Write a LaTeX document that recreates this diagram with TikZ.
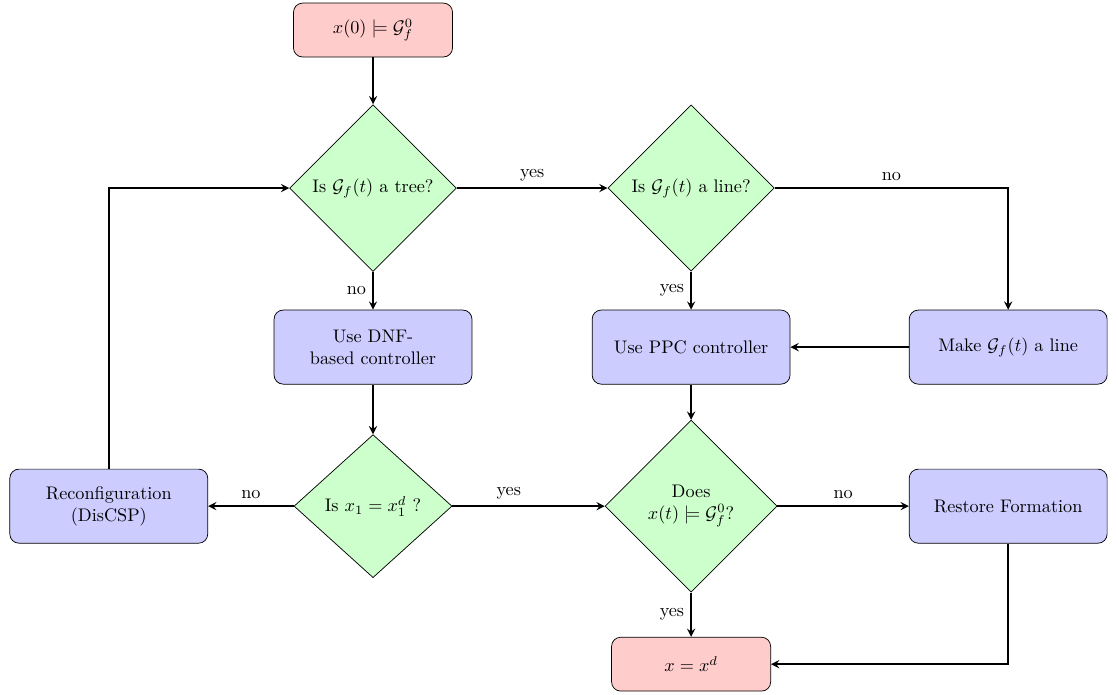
\documentclass[tikz,border=0pt]{standalone}
\usetikzlibrary{shapes.geometric}
\begin{document}
\begin{tikzpicture}[>=stealth, line width=1pt,
  term/.style={draw, thin, rounded corners=5pt, fill=red!20, minimum width=3.07cm, minimum height=1.04cm},
  proc/.style={draw, thin, rounded corners=5pt, fill=blue!20, minimum width=3.82cm, minimum height=1.43cm, align=center},
  test/.style={draw, thin, diamond, fill=green!20, inner sep=0pt, align=center}]
  \useasboundingbox (0,0) rectangle (21.58,-13.40);
  % nodes
  \node[term] (start) at (7.20,-0.58) {$x(0) \models \mathcal{G}_f^0$};
  \node[test, minimum width=3.22cm, minimum height=3.22cm] (tree) at (7.20,-3.63) {Is $\mathcal{G}_f(t)$ a tree?};
  \node[test, minimum width=3.21cm, minimum height=3.21cm] (line) at (13.34,-3.63) {Is $\mathcal{G}_f(t)$ a line?};
  \node[proc] (dnf) at (7.20,-6.70) {Use DNF-\\based controller};
  \node[proc] (ppc) at (13.34,-6.70) {Use PPC controller};
  \node[proc] (make) at (19.46,-6.70) {Make $\mathcal{G}_f(t)$ a line};
  \node[proc] (reconf) at (2.10,-9.77) {Reconfiguration\\(DisCSP)};
  \node[test, minimum width=3.05cm, minimum height=2.76cm] (check) at (7.20,-9.77) {Is $x_1 = x_1^d$ ?};
  \node[test, minimum width=3.32cm, minimum height=3.32cm] (does) at (13.34,-9.77) {Does\\$x(t) \models \mathcal{G}_f^0$?};
  \node[proc] (restore) at (19.46,-9.77) {Restore Formation};
  \node[term] (goal) at (13.34,-12.82) {$x = x^d$};
  % connectors
  \foreach \a/\b in {start/tree, make/ppc, dnf/check, ppc/does}
    \draw[->] (\a) -- (\b);
  \draw[->] (tree) -- node[above] {yes} (line);
  \draw[->] (line) -| node[above, pos=0.25] {no} (make);
  \draw[->] (tree) -- node[left] {no} (dnf);
  \draw[->] (line) -- node[left] {yes} (ppc);
  \draw[->] (check) -- node[above] {no} (reconf);
  \draw[->] (check) -- node[above, pos=0.37] {yes} (does);
  \draw[->] (does) -- node[above] {no} (restore);
  \draw[->] (does) -- node[left] {yes} (goal);
  \draw[->] (restore) |- (goal);
  \draw[->] (reconf) |- (tree);
\end{tikzpicture}
\end{document}
